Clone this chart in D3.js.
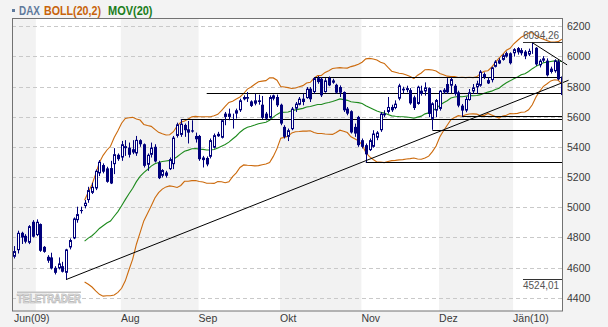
<!DOCTYPE html>
<html>
<head>
<meta charset="utf-8">
<script src="https://cdn.jsdelivr.net/npm/d3@7"></script>
<style>
body { margin: 0; background: #f3f3f3; }
svg { display: block; }
text { font-family: "Liberation Sans", Arial, sans-serif; }
</style>
</head>
<body>
<svg id="chart" width="608" height="327"></svg>
<script>

// DAX daily candles, 23 Jun 2009 .. 21 Jan 2010
var openv = [4675,4719,4834,4814,4768,4907,4819,4892,4741,4675,4671,4602,4598,4613,4569,4737,4797,4918,4978,5011,
             5051,5099,5128,5228,5283,5261,5263,5289,5351,5333,5395,5399,5388,5360,5448,5421,5285,5351,5404,5300,
             5212,5234,5256,5289,5476,5483,5549,5520,5513,5476,5476,5333,5330,5338,5398,5474,5464,5602,5602,5613,
             5624,5646,5734,5723,5705,5690,5712,5683,5624,5596,5745,5734,5683,5536,5470,5521,5657,5683,5701,5727,
             5789,5767,5859,5855,5767,5860,5844,5815,5800,5767,5657,5640,5536,5602,5448,5415,5382,5404,5464,5514,
             5624,5635,5668,5661,5723,5778,5780,5780,5732,5688,5776,5771,5793,5589,5644,5655,5765,5820,5809,5809,
             5765,5677,5644,5714,5771,5798,5809,5886,5846,5846,5934,5956,5980,6002,6024,6024,6058,6024,6035,6015,
             6045,6060,5944,5975,5975,5900,5905,5970,5870];
var highv = [4746,4848,4841,4825,4885,4918,4923,4896,4746,4686,4702,4613,4671,4642,4728,4797,4936,5007,5007,5051,
             5139,5166,5254,5316,5294,5272,5311,5395,5360,5443,5448,5432,5448,5476,5454,5426,5360,5432,5421,5311,
             5256,5245,5333,5476,5564,5587,5558,5575,5580,5498,5483,5344,5340,5459,5492,5503,5587,5635,5657,5624,
             5657,5723,5745,5767,5712,5756,5749,5741,5635,5745,5750,5750,5690,5547,5525,5668,5701,5734,5756,5800,
             5800,5866,5873,5866,5859,5870,5855,5822,5811,5771,5668,5646,5558,5609,5459,5426,5459,5514,5508,5635,
             5646,5734,5683,5712,5822,5802,5809,5793,5743,5809,5809,5831,5798,5699,5721,5780,5793,5859,5864,5820,
             5776,5688,5736,5787,5820,5842,5912,5897,5864,5934,5978,5991,6020,6035,6030,6058,6065,6058,6045,6055,
             6094.26,6065,5985,6005,5990,5935,5984,5985,5905];
var lowv  = [4664,4697,4760,4764,4759,4803,4812,4708,4702,4635,4591,4558,4591,4571,4524.01,4724,4792,4901,4962,4996,
             5033,5091,5117,5210,5228,5166,5157,5223,5311,5311,5344,5333,5355,5344,5404,5267,5245,5333,5300,5190,
             5201,5200,5250,5256,5465,5470,5470,5426,5498,5432,5311,5267,5275,5327,5393,5470,5459,5547,5580,5525,
             5591,5635,5712,5701,5668,5679,5683,5587,5580,5591,5712,5668,5547,5459,5442,5514,5635,5679,5679,5723,
             5701,5756,5822,5734,5763,5806,5822,5756,5734,5635,5613,5492,5470,5404,5393,5300,5376,5398,5448,5503,
             5602,5624,5635,5653,5712,5758,5765,5683,5648,5683,5743,5743,5600,5517,5600,5644,5754,5754,5758,5743,
             5666,5605,5633,5710,5754,5754,5802,5853,5820,5831,5930,5952,5975,5995,5950,6002,6015,6010,5985,6005,
             6020,5940,5930,5965,5870,5890,5895,5845,5740];
var closev = [4713,4834,4803,4775,4878,4808,4907,4715,4708,4649,4598,4569,4631,4576,4724,4786,4929,4958,4985,5033,
             5117,5139,5245,5305,5239,5172,5161,5355,5322,5421,5408,5351,5366,5450,5421,5278,5351,5399,5307,5196,
             5250,5212,5322,5465,5553,5557,5514,5498,5505,5454,5322,5316,5287,5448,5481,5490,5580,5624,5624,5617,
             5646,5712,5719,5734,5675,5712,5701,5596,5591,5734,5723,5679,5558,5470,5514,5657,5690,5723,5723,5789,
             5719,5859,5833,5745,5844,5811,5829,5763,5763,5646,5624,5499,5492,5415,5404,5354,5448,5492,5499,5624,
             5613,5668,5646,5690,5811,5789,5793,5692,5661,5802,5754,5798,5622,5692,5714,5776,5782,5765,5853,5754,
             5677,5644,5721,5765,5798,5824,5903,5864,5824,5930,5969,5978,6011,6025,5958,6051,6030,6045,6005,6040,
             6050,5950,5975,5990,5878,5922,5976,5851,5747];

// first trading day of each month (candle index) and its label
var monthStart  = [0, 6, 29, 50, 72, 94, 115, 135];
var monthLabels = ["Jun(09)", "", "Aug", "Sep", "Okt", "Nov", "Dez", "J\u00e4n(10)"];
var yTicks = [4400, 4600, 4800, 5000, 5200, 5400, 5600, 5800, 6000, 6200];

// horizontal support / resistance levels: value, candle where they begin
var levelValues = [5865, 5759, 5586, 5606, 5515, 5300];
var levelStart  = [81, 52, 45, 121, 113, 95];

// trend lines as [index, value] pairs
var upTrend   = [[14, 4524.01], [149.8, 5845]];
var downTrend = [[140, 6094.26], [149.4, 5947]];

var PERIOD = 20;

function bollinger(closes, n) {
    var out = [];
    for (var kk = 0; kk < closes.length; kk++) {
	if (kk < n - 1) { out.push(null); continue; }
	var win = closes.slice(kk - n + 1, kk + 1);
	var m = d3.mean(win);
	var sd = Math.sqrt(d3.mean(win, function(v) { return (v - m) * (v - m); }));
	out.push({ i: kk, mid: m, up: m + 2 * sd, lo: m - 2 * sd });
    }
    return out;
}

function crisp(v) { return Math.floor(v) + 0.5; }

function plot() {

    var svg = d3.select("#chart");
    var left = 12, top = 18, right = 562, bottom = 311;
    var navy = "#00007c";

    var x = d3.scaleLinear().domain([0, closev.length - 1]).range([14.3, 561.9]);
    var y = d3.scaleLinear().domain([4400, 6200]).range([298.3, 26.7]);

    svg.append("defs").append("clipPath").attr("id", "plotclip")
	.append("rect").attr("x", left).attr("y", top)
	.attr("width", right - left).attr("height", bottom - top);

    var g = svg.append("g").attr("clip-path", "url(#plotclip)");

    // month bands
    for (var kk = 0; kk < monthStart.length; kk++) {
	var x0 = kk == 0 ? left : x(monthStart[kk]) - 0.7;
	var x1 = kk == monthStart.length - 1 ? right : x(monthStart[kk + 1]) - 0.7;
	g.append("rect").attr("x", x0).attr("y", top).attr("width", x1 - x0).attr("height", bottom - top)
	    .style("fill", kk % 2 == 0 ? "#f2f2f2" : "#ffffff");
    }

    // dashed grid
    g.selectAll("line.grid").data(yTicks).enter().append("line")
	.attr("class", "grid")
	.attr("x1", left).attr("x2", right)
	.attr("y1", function(d) { return crisp(y(d)); })
	.attr("y2", function(d) { return crisp(y(d)); })
	.style("stroke", "#c9c9c9").style("stroke-dasharray", "4,3");

    // watermark
    g.append("rect").attr("x", 17).attr("y", 291.5).attr("width", 64).attr("height", 1.5).style("fill", "#c4c4c4");
    g.append("text").attr("x", 17).attr("y", 303).text("TELETRADER")
	.attr("textLength", 64).attr("lengthAdjust", "spacingAndGlyphs")
	.style("font-size", "12px").style("font-weight", "bold")
	.style("fill", "#e2e2e2").style("stroke", "#b4b4b4").style("stroke-width", 0.7);

    // bollinger bands and moving average
    var boll = bollinger(closev, PERIOD).filter(function(d) { return d != null; });
    var lineUp  = d3.line().x(function(d) { return x(d.i); }).y(function(d) { return y(d.up); });
    var lineLo  = d3.line().x(function(d) { return x(d.i); }).y(function(d) { return y(d.lo); });
    var lineMid = d3.line().x(function(d) { return x(d.i); }).y(function(d) { return y(d.mid); });
    g.append("path").attr("d", lineUp(boll)).style("fill", "none").style("stroke", "#cc6a0c").style("stroke-width", 1.1);
    g.append("path").attr("d", lineLo(boll)).style("fill", "none").style("stroke", "#cc6a0c").style("stroke-width", 1.1);
    g.append("path").attr("d", lineMid(boll)).style("fill", "none").style("stroke", "#1d8a1d").style("stroke-width", 1.1);

    // horizontal levels
    for (var kk = 0; kk < levelValues.length; kk++) {
	g.append("line")
	    .attr("x1", x(levelStart[kk])).attr("x2", right)
	    .attr("y1", crisp(y(levelValues[kk]))).attr("y2", crisp(y(levelValues[kk])))
	    .style("stroke", "#000").style("stroke-width", 1.2);
    }

    // candles
    var idx = d3.range(closev.length);
    var cg = g.append("g");
    idx.forEach(function(i) {
	var cx = Math.round(x(i));
	var o = openv[i], c = closev[i];
	var yt = y(Math.max(o, c)), yb = y(Math.min(o, c));
	cg.append("line").attr("x1", cx + 0.5).attr("x2", cx + 0.5)
	    .attr("y1", y(highv[i])).attr("y2", y(lowv[i]))
	    .style("stroke", navy);
	if (c < o) {
	    cg.append("rect").attr("x", cx - 1).attr("y", yt).attr("width", 3)
		.attr("height", Math.max(1, yb - yt)).style("fill", navy);
	} else {
	    cg.append("rect").attr("x", cx - 0.5).attr("y", yt + 0.5).attr("width", 2)
		.attr("height", Math.max(0, yb - yt - 1))
		.style("fill", "#fff").style("stroke", navy);
	}
    });

    // max / min markers
    var hi = d3.max(highv), lo = d3.min(lowv);
    var fmt = function(v) { return d3.format(".2f")(v).replace(".", ","); };
    svg.append("line").attr("x1", right - 39).attr("x2", right)
	.attr("y1", crisp(y(hi))).attr("y2", crisp(y(hi))).style("stroke", "#333");
    svg.append("text").attr("x", right - 39).attr("y", crisp(y(hi)) - 3.5).text(fmt(hi))
	.style("font-size", "10px").style("fill", "#555");
    svg.append("line").attr("x1", right - 39).attr("x2", right)
	.attr("y1", crisp(y(lo))).attr("y2", crisp(y(lo))).style("stroke", "#333");
    svg.append("text").attr("x", right - 39).attr("y", crisp(y(lo)) + 9.5).text(fmt(lo))
	.style("font-size", "10px").style("fill", "#555");

    // trend lines (they run a little past the frame)
    var tline = d3.line().x(function(d) { return x(d[0]); }).y(function(d) { return y(d[1]); });
    svg.append("path").attr("d", tline(upTrend)).style("stroke", "#000").style("fill", "none");
    svg.append("path").attr("d", tline(downTrend)).style("stroke", "#000").style("fill", "none");

    // frame
    svg.append("rect").attr("x", left + 0.5).attr("y", top + 0.5)
	.attr("width", right - left).attr("height", bottom - top - 0.5)
	.style("fill", "none").style("stroke", "#727272");

    // y labels
    svg.selectAll("text.ylab").data(yTicks).enter().append("text")
	.attr("class", "ylab")
	.attr("x", 567).attr("y", function(d) { return y(d) + 3.5; })
	.text(function(d) { return d; })
	.style("font-size", "10.5px").style("fill", "#3a3a3a");

    // month labels
    for (var kk = 0; kk < monthStart.length; kk++) {
	if (monthLabels[kk] == "") continue;
	svg.append("text")
	    .attr("x", kk == 0 ? left + 2 : x(monthStart[kk]) - 0.7)
	    .attr("y", 322)
	    .text(monthLabels[kk])
	    .style("font-size", "10.5px").style("fill", "#3a3a3a");
    }

    // legend
    svg.append("rect").attr("x", 12).attr("y", 9).attr("width", 3).attr("height", 3).style("fill", "#5f7a9c");
    var legend = [["DAX", 19, 21, "#5f7a9c"], ["BOLL(20,2)", 44, 57, "#c8640a"], ["MOV(20)", 108, 44.5, "#1b7d1b"]];
    legend.forEach(function(d) {
	svg.append("text").attr("x", d[1]).attr("y", 14.5).text(d[0])
	    .attr("textLength", d[2]).attr("lengthAdjust", "spacingAndGlyphs")
	    .style("font-size", "12px").style("font-weight", "bold").style("fill", d[3]);
    });
}

plot();

</script>
</body>
</html>
